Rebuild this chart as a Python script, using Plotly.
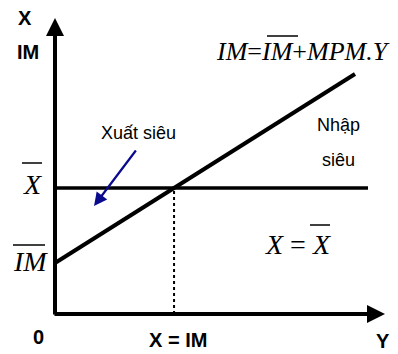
import plotly.graph_objects as go

# ---- model values (units: 1 unit = 10 px in the picture) ----
IM_BAR = 5.1        # autonomous imports (intercept)
X_BAR = 12.6        # exports level
MPM = 0.63          # marginal propensity to import
Y_END_IM = 30.0     # end of IM line
Y_END_X = 31.3      # end of X line
AXIS_X_MAX = 33.0
AXIS_Y_MAX = 29.6

Y_EQ = (X_BAR - IM_BAR) / MPM  # X = IM

PAD = 8  # page body margin
W, H = 398 - PAD, 354 - PAD
OX, OY = 55, 314  # pixel position of origin in the page
SC = 10.0

def P(px, py):
    return ((px - OX) / SC, (OY - py) / SC)

fig = go.Figure()

ys = [0, Y_END_IM]
fig.add_trace(go.Scatter(x=ys, y=[IM_BAR + MPM * v for v in ys], mode="lines",
                         line=dict(color="black", width=4), hoverinfo="skip"))
fig.add_trace(go.Scatter(x=[0, Y_END_X], y=[X_BAR, X_BAR], mode="lines",
                         line=dict(color="black", width=3.5), hoverinfo="skip"))
fig.add_trace(go.Scatter(x=[Y_EQ, Y_EQ], y=[0, X_BAR], mode="lines",
                         line=dict(color="black", width=2, dash="dot"), hoverinfo="skip"))

ann = []
ann.append(dict(x=AXIS_X_MAX, y=0, ax=-0.2, ay=0, xref="x", yref="y", axref="x", ayref="y",
                showarrow=True, arrowhead=2, arrowsize=0.9, arrowwidth=4, arrowcolor="black", text=""))
ann.append(dict(x=0, y=AXIS_Y_MAX, ax=0, ay=-0.2, xref="x", yref="y", axref="x", ayref="y",
                showarrow=True, arrowhead=2, arrowsize=0.9, arrowwidth=4, arrowcolor="black", text=""))
sx, sy = P(137, 149)
tx, ty = P(94, 206)
ann.append(dict(x=tx, y=ty, ax=sx, ay=sy, xref="x", yref="y", axref="x", ayref="y",
                showarrow=True, arrowhead=2, arrowsize=1.2, arrowwidth=2.2, arrowcolor="#0a0a8c", text=""))

bold = dict(family="Liberation Sans Narrow, Arial Narrow, Liberation Sans", size=20, color="black")
sans = dict(family="Liberation Sans, Arial", size=18, color="black")
serif = dict(family="Liberation Serif, Times New Roman", size=28, color="black")

def txt(px, py, s, font, xanchor="center"):
    x, y = P(px, py)
    ann.append(dict(x=x, y=y, xref="x", yref="y", text=s, showarrow=False, font=font,
                    xanchor=xanchor, yanchor="middle"))

txt(25, 18, "<b>X</b>", bold)
txt(28, 52, "<b>IM</b>", bold)
txt(38, 337, "<b>0</b>", bold)
txt(178, 340, "<b>X = IM</b>", bold)
txt(383, 341, "<b>Y</b>", bold)
txt(138, 133, "Xuất siêu", sans)
txt(338, 125, "Nhập", sans)
txt(338, 160, "siêu", sans)
txt(32, 184, "<i>X</i>", serif)
txt(30, 261, "<i>IM</i>", serif)
txt(303, 51, "<i>IM</i>=<i>IM</i>+<i>MPM.Y</i>", dict(family="Liberation Serif", size=26, color="black"))
txt(298, 244, "<i>X</i> = <i>X</i>", serif)

shapes = []
def bar(x1, x2, py):
    a = P(x1, py); b = P(x2, py)
    shapes.append(dict(type="line", x0=a[0], y0=a[1], x1=b[0], y1=b[1], xref="x", yref="y",
                       line=dict(color="black", width=1.5)))
bar(22, 42, 163)
bar(13, 45, 245)
bar(267, 298, 36)
bar(310, 330, 225)

fig.update_layout(
    width=W, height=H, margin=dict(l=0, r=0, t=0, b=0),
    paper_bgcolor="white", plot_bgcolor="white", showlegend=False,
    xaxis=dict(range=[-(OX - PAD) / SC, (W - (OX - PAD)) / SC], visible=False, fixedrange=True),
    yaxis=dict(range=[-(H - (OY - PAD)) / SC, (OY - PAD) / SC], visible=False, fixedrange=True),
    annotations=ann, shapes=shapes,
)
fig.write_html("out.html")
